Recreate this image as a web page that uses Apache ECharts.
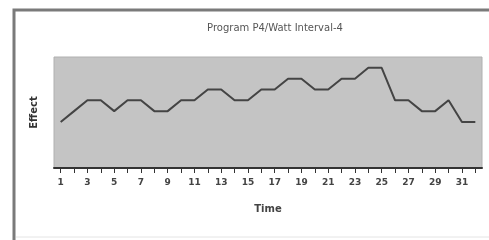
<!DOCTYPE html>
<html>
<head>
<meta charset="utf-8">
<script src="https://cdn.jsdelivr.net/npm/echarts@6/dist/echarts.min.js"></script>
<style>
  html, body { margin: 0; padding: 0; background: #fff; }
  #chart { width: 489px; height: 240px; }
</style>
</head>
<body>
<div id="chart"></div>
<script>
// time steps 1..32
const times = ['1','2','3','4','5','6','7','8','9','10','11','12','13','14','15','16',
  '17','18','19','20','21','22','23','24','25','26','27','28','29','30','31','32']
// effect level
const effect = [5, 6, 7, 7, 6, 7, 7, 6, 6, 7, 7, 8, 8, 7, 7, 8,
  8, 9, 9, 8, 8, 9, 9, 10, 10, 7, 7, 6, 6, 7, 5, 5]

const chart = echarts.init(document.getElementById('chart'))
chart.setOption({
  animation: false,
  title: {
    text: 'Program P4/Watt Interval-4',
    left: 270,
    top: 18,
    textAlign: 'center',
    textStyle: { fontFamily: 'DejaVu Sans', fontSize: 10, fontWeight: 'normal', color: '#555' }
  },
  graphic: [{
    type: 'rect',
    shape: { x: 14, y: 10, width: 520, height: 240 },
    style: { fill: 'none', stroke: '#7a7a7a', lineWidth: 3 }
  }, {
    type: 'line',
    shape: { x1: 16, y1: 237, x2: 489, y2: 237 },
    style: { stroke: '#e4e4e4', lineWidth: 1 }
  }],
  grid: {
    left: 54,
    right: 7,
    top: 57,
    bottom: 72,
    show: true,
    backgroundColor: '#c4c4c4',
    borderColor: '#b0b0b0',
    borderWidth: 1
  },
  xAxis: {
    type: 'category',
    data: times,
    boundaryGap: true,
    name: 'Time',
    nameLocation: 'middle',
    nameGap: 36,
    nameTextStyle: { fontFamily: 'DejaVu Sans', fontSize: 10, fontWeight: 'bold', color: '#444' },
    axisLine: { show: true, lineStyle: { color: '#333', width: 2 } },
    axisTick: { show: true, alignWithLabel: true, interval: 0, length: 5, lineStyle: { color: '#333', width: 1 } },
    axisLabel: {
      interval: 1,
      margin: 10,
      fontFamily: 'DejaVu Sans',
      fontSize: 9,
      fontWeight: 'bold',
      color: '#444'
    },
    splitLine: { show: false }
  },
  yAxis: {
    type: 'value',
    min: 0.75,
    max: 11,
    name: 'Effect',
    nameLocation: 'middle',
    nameGap: 15,
    nameTextStyle: { fontFamily: 'DejaVu Sans', fontSize: 10, fontWeight: 'bold', color: '#333' },
    axisLine: { show: false },
    axisTick: { show: false },
    axisLabel: { show: false },
    splitLine: { show: false }
  },
  series: [{
    type: 'line',
    data: effect,
    showSymbol: false,
    lineStyle: { color: '#444', width: 2 }
  }]
})
</script>
</body>
</html>
